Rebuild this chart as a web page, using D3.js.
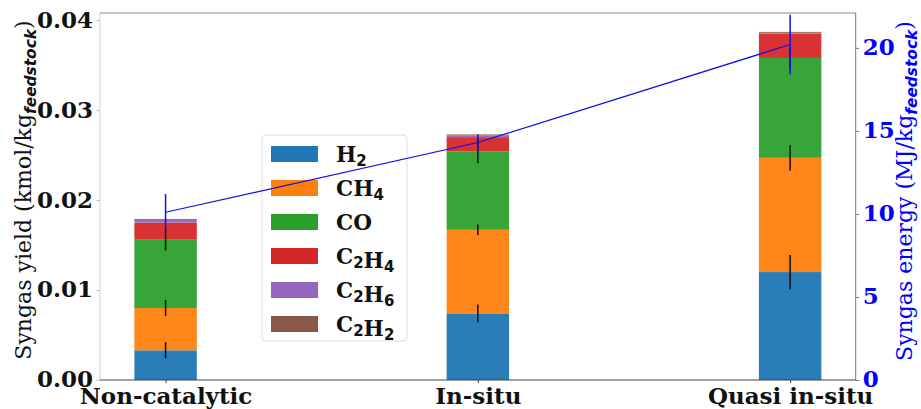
<!DOCTYPE html>
<html><head><meta charset="utf-8">
<script src="https://cdn.jsdelivr.net/npm/d3@7"></script>
<style>body{margin:0;background:#fff}svg{display:block}</style>
</head><body><svg id="chart" width="921" height="409"></svg>
<script>
// Syngas composition per catalytic mode (kmol/kg feedstock), stacked by gas
const categories = ["Non-catalytic", "In-situ", "Quasi in-situ"];
const gasNames = ["H2", "CH4", "CO", "C2H4", "C2H6", "C2H2"];
const gasColors = ["#1f77b4", "#ff7f0e", "#2ca02c", "#d62728", "#9467bd", "#8c564b"];
const h2   = [0.0033, 0.0074, 0.0120];
const ch4  = [0.0047, 0.0093, 0.0127];
const co   = [0.0076, 0.0087, 0.0111];
const c2h4 = [0.0019, 0.0016, 0.0027];
const c2h6 = [0.0003, 0.0002, 0.0001];
const c2h2 = [0.0001, 0.0001, 0.0001];
// standard deviations on the three main gases
const h2Err  = [0.0009, 0.0010, 0.0019];
const ch4Err = [0.0009, 0.0006, 0.0014];
const coErr  = [0.0012, 0.0013, 0.0012];
// syngas energy content (MJ/kg feedstock)
const energy    = [10.1, 14.3, 20.2];
const energyErr = [1.1, 0.5, 1.8];
const yieldTicks  = [0, 0.01, 0.02, 0.03, 0.04];
const energyTicks = [0, 5, 10, 15, 20];

const series = [h2, ch4, co, c2h4, c2h6, c2h2];
const errors = [h2Err, ch4Err, coErr, null, null, null];

const svg = d3.select("#chart");
const L = 100, R = 855.7, T = 13, B = 380;
const tickFont = "'DejaVu Serif', serif";

const x = d3.scaleLinear().domain([-0.21, 2.21]).range([L, R]);
const y = d3.scaleLinear().domain([0, 0.0408]).range([B, T]);
const y2 = d3.scaleLinear().domain([0, 22.1]).range([B, T]);
const barW = x(0.1) - x(-0.1);

svg.append("defs").append("clipPath").attr("id", "plot")
  .append("rect").attr("x", L).attr("y", T).attr("width", R - L).attr("height", B - T);

// stacked bars
const rows = categories.map((c, i) => {
  const o = { cat: i };
  gasNames.forEach((g, k) => o[g] = series[k][i]);
  return o;
});
const stacked = d3.stack().keys(gasNames)(rows);

const barG = svg.append("g");
stacked.forEach((layer, k) => {
  barG.selectAll(null).data(layer).enter().append("rect")
    .attr("x", d => x(d.data.cat) - barW / 2)
    .attr("width", barW)
    .attr("y", d => y(d[1]))
    .attr("height", d => y(d[0]) - y(d[1]))
    .attr("fill", gasColors[k])
    .attr("fill-opacity", 0.95);
});

// error bars at the top of each segment
stacked.forEach((layer, k) => {
  if (!errors[k]) return;
  barG.selectAll(null).data(layer).enter().append("line")
    .attr("x1", (d, i) => x(i)).attr("x2", (d, i) => x(i))
    .attr("y1", (d, i) => y(d[1] - errors[k][i]))
    .attr("y2", (d, i) => y(d[1] + errors[k][i]))
    .attr("stroke", "#111").attr("stroke-width", 1.5);
});

// spines
svg.append("line").attr("x1", L).attr("x2", L).attr("y1", T).attr("y2", B).attr("stroke", "#cfcfcf").attr("stroke-width", 1);
svg.append("line").attr("x1", L).attr("x2", R).attr("y1", T).attr("y2", T).attr("stroke", "#8a8a8a").attr("stroke-width", 1);
svg.append("line").attr("x1", R).attr("x2", R).attr("y1", T).attr("y2", B).attr("stroke", "#777").attr("stroke-width", 1);
svg.append("line").attr("x1", L).attr("x2", R).attr("y1", B).attr("y2", B).attr("stroke", "#444").attr("stroke-width", 1.2);

// left axis
const yAxis = d3.axisLeft(y).tickValues(yieldTicks).tickFormat(d3.format(".2f")).tickSize(3.5).tickPadding(3.5);
const gy = svg.append("g").attr("transform", `translate(${L},0)`).call(yAxis);
gy.select(".domain").remove();
gy.selectAll(".tick line").attr("stroke", "#bbb");
gy.selectAll(".tick text").attr("font-family", tickFont).attr("font-weight", "bold")
  .attr("font-size", 23).attr("fill", "#111").attr("dy", "0.3em");

// right axis
const y2Axis = d3.axisRight(y2).tickValues(energyTicks).tickSize(3.5).tickPadding(3.5);
const gy2 = svg.append("g").attr("transform", `translate(${R},0)`).call(y2Axis);
gy2.select(".domain").remove();
gy2.selectAll(".tick line").attr("stroke", "#777");
gy2.selectAll(".tick text").attr("font-family", tickFont).attr("font-weight", "bold")
  .attr("font-size", 23).attr("fill", "#0000ff").attr("dy", "0.3em");

// bottom axis
const xAxis = d3.axisBottom(x).tickValues([0, 1, 2]).tickFormat(i => categories[i]).tickSize(3).tickPadding(3);
const gx = svg.append("g").attr("transform", `translate(0,${B})`).call(xAxis);
gx.select(".domain").remove();
gx.selectAll(".tick line").attr("stroke", "#444");
gx.selectAll(".tick text").attr("font-family", tickFont).attr("font-weight", "bold")
  .attr("font-size", 23).attr("fill", "#111").attr("dy", "0.78em");

// axis titles with bold-italic subscript
function axisTitle(cx, cy, main, color) {
  const t = svg.append("text")
    .attr("transform", `translate(${cx},${cy}) rotate(-90)`)
    .attr("text-anchor", "middle")
    .attr("font-family", tickFont).attr("font-size", 22).attr("fill", color);
  t.append("tspan").text(main);
  t.append("tspan").attr("font-family", "'DejaVu Sans', sans-serif").attr("font-weight", "bold")
    .attr("font-style", "italic").attr("font-size", 15.4).attr("dy", 5).text("feedstock");
  t.append("tspan").attr("dy", -5).text(")");
}
axisTitle(31, 190, "Syngas yield (kmol/kg", "#111");
axisTitle(912, 191, "Syngas energy (MJ/kg", "#0000ff");

// legend
const lg = svg.append("g");
lg.append("rect").attr("x", 262).attr("y", 135).attr("width", 145).attr("height", 206)
  .attr("rx", 4).attr("fill", "#fff").attr("fill-opacity", 0.85).attr("stroke", "#ddd");
gasNames.forEach((g, k) => {
  const cy = 154 + k * 34;
  lg.append("rect").attr("x", 271).attr("y", cy - 8).attr("width", 47).attr("height", 16).attr("fill", gasColors[k]);
  const t = lg.append("text").attr("x", 336).attr("y", cy + 8)
    .attr("font-family", tickFont).attr("font-weight", "bold").attr("font-size", 21.5).attr("fill", "#111");
  // digits in the formula are drawn as subscripts
  g.match(/[A-Z][a-z]*|\d+/g).forEach(part => {
    if (/\d/.test(part)) {
      t.append("tspan").attr("font-family", "'DejaVu Sans', sans-serif").attr("font-size", 15)
        .attr("dy", 4).text(part);
      t.append("tspan").attr("dy", -4).text("");
    } else {
      t.append("tspan").text(part);
    }
  });
});

// energy line on the secondary axis, drawn above everything else
const eg = svg.append("g").attr("clip-path", "url(#plot)");
eg.append("path")
  .datum(energy)
  .attr("d", d3.line().x((d, i) => x(i)).y(d => y2(d)))
  .attr("fill", "none").attr("stroke", "#1010e0").attr("stroke-width", 1.2);
eg.selectAll(null).data(energy).enter().append("line")
  .attr("x1", (d, i) => x(i)).attr("x2", (d, i) => x(i))
  .attr("y1", (d, i) => y2(d - energyErr[i]))
  .attr("y2", (d, i) => y2(d + energyErr[i]))
  .attr("stroke", "#1010e0").attr("stroke-width", 1.5);
</script>
</body></html>
